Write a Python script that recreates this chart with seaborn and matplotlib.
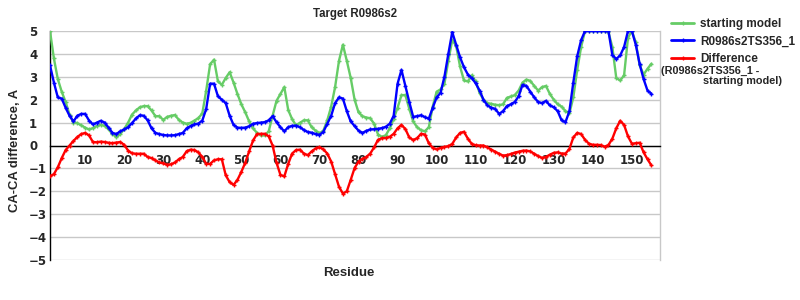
import numpy as np
import pandas as pd
import matplotlib
matplotlib.use("Agg")
import matplotlib.pyplot as plt
import seaborn as sns
from matplotlib.lines import Line2D

residues = list(range(1, 156))

starting_model = [
    5.0, 3.8, 2.9, 2.35, 1.9, 1.35, 1.0, 0.98, 0.88, 0.78,
    0.7, 0.76, 0.85, 0.9, 0.86, 0.7, 0.5, 0.36, 0.5, 0.72,
    1.0, 1.35, 1.53, 1.67, 1.72, 1.72, 1.53, 1.28, 1.28, 1.12,
    1.25, 1.3, 1.33, 1.12, 1.0, 0.95, 0.99, 1.09, 1.2, 1.4,
    2.4, 3.55, 3.75, 2.8, 2.65, 2.95, 3.2, 2.75, 2.25, 1.8,
    1.45, 1.05, 0.75, 0.55, 0.44, 0.44, 0.62, 1.3, 1.95, 2.25,
    2.55, 1.55, 1.15, 0.88, 0.99, 1.1, 1.1, 0.8, 0.65, 0.53,
    0.65, 1.1, 1.7, 2.55, 3.7, 4.4, 3.7, 2.95, 2.0, 1.45,
    1.28, 1.22, 1.19, 0.95, 0.48, 0.38, 0.45, 0.75, 1.16, 1.65,
    2.2, 2.2, 1.6, 1.05, 0.8, 0.67, 0.62, 0.8, 1.7, 2.35,
    2.45, 2.7, 3.7, 4.6, 4.35, 3.45, 2.84, 2.8, 3.06, 2.8,
    2.3, 2.0, 1.85, 1.82, 1.78, 1.76, 1.8, 2.08, 2.14, 2.2,
    2.4, 2.75, 2.88, 2.82, 2.6, 2.4, 2.55, 2.6, 2.25, 2.0,
    1.8, 1.7, 1.5, 1.4, 2.1, 3.3, 4.3, 5.0, 5.0, 5.0,
    5.0, 5.0, 5.0, 4.95, 4.3, 2.95, 2.84, 3.06, 4.7, 5.0,
    4.5, 3.5, 3.1, 3.35, 3.57,
]

model_ts356 = [
    3.5, 2.75, 2.1, 2.05, 1.65, 1.3, 1.05, 1.3, 1.38, 1.38,
    1.09, 0.92, 1.0, 1.08, 1.0, 0.78, 0.55, 0.5, 0.62, 0.7,
    0.8, 0.98, 1.18, 1.32, 1.3, 1.1, 0.75, 0.55, 0.5, 0.46,
    0.44, 0.44, 0.45, 0.5, 0.55, 0.75, 0.85, 0.92, 0.96, 1.09,
    1.6, 2.7, 2.7, 2.15, 2.0, 1.85, 1.3, 0.9, 0.78, 0.77,
    0.78, 0.84, 0.95, 0.98, 1.0, 1.02, 1.1, 1.28, 1.02, 0.8,
    0.62, 0.8, 0.86, 0.87, 0.8, 0.68, 0.59, 0.56, 0.5, 0.46,
    0.6, 0.95, 1.3, 1.85, 2.1, 2.05, 1.5, 1.05, 0.85, 0.65,
    0.55, 0.64, 0.7, 0.71, 0.73, 0.76, 0.82, 0.95, 1.3, 2.7,
    3.3, 2.6, 1.9, 1.25, 1.28, 1.32, 1.24, 1.17, 1.65, 2.1,
    2.3, 3.0, 4.0, 4.95, 4.4, 3.85, 3.42, 3.1, 2.94, 2.72,
    2.4, 2.0, 1.75, 1.65, 1.6, 1.38, 1.5, 1.72, 1.8, 1.9,
    2.15, 2.65, 2.6, 2.35, 2.1, 1.9, 1.85, 1.95, 1.75, 1.67,
    1.5, 1.1, 1.02, 1.5, 2.75, 3.9, 4.6, 5.0, 5.0, 5.0,
    5.0, 5.0, 5.0, 5.0, 3.95, 3.78, 3.93, 4.3, 5.0, 5.0,
    4.4, 3.55, 2.9, 2.4, 2.26,
]

difference = [
    -1.34, -1.25, -0.95, -0.55, -0.2, 0.0, 0.2, 0.37, 0.5, 0.55,
    0.44, 0.15, 0.14, 0.17, 0.15, 0.12, 0.1, 0.13, 0.15, 0.03,
    -0.22, -0.34, -0.36, -0.36, -0.36, -0.5, -0.55, -0.65, -0.74, -0.78,
    -0.84, -0.82, -0.74, -0.6, -0.5, -0.25, -0.18, -0.2, -0.3, -0.5,
    -0.8, -0.8, -0.65, -0.6, -0.6, -1.3, -1.6, -1.72, -1.5, -1.15,
    -0.75, -0.25, 0.22, 0.5, 0.51, 0.51, 0.4, 0.0, -0.75, -1.28,
    -1.35, -0.8, -0.35, -0.2, -0.18, -0.35, -0.42, -0.26, -0.13, -0.07,
    -0.17, -0.35, -0.7, -1.25, -1.8, -2.1, -2.0, -1.5, -0.98, -0.7,
    -0.58, -0.5, -0.35, -0.08, 0.25, 0.32, 0.33, 0.38, 0.51, 0.75,
    0.9, 0.72, 0.35, 0.24, 0.32, 0.51, 0.48, 0.1, -0.1, -0.17,
    -0.1, -0.06, -0.03, 0.07, 0.35, 0.55, 0.6, 0.3, 0.07, 0.01,
    0.0, 0.0, -0.08, -0.18, -0.27, -0.36, -0.44, -0.42, -0.37, -0.31,
    -0.27, -0.23, -0.22, -0.26, -0.36, -0.46, -0.54, -0.5, -0.4, -0.32,
    -0.3, -0.35, -0.35, -0.15, 0.35, 0.55, 0.5, 0.25, 0.08, 0.03,
    0.03, 0.02, -0.05, 0.02, 0.3, 0.75, 1.08, 0.9, 0.4, 0.08,
    0.1, 0.12, -0.3, -0.6, -0.87,
]

series_names = ["starting model", "R0986s2TS356_1", "Difference"]
colors = ["#66CC66", "#0000FF", "#FF0000"]
x_ticks = list(range(10, 151, 10))
y_ticks = list(range(-5, 6))

df = pd.DataFrame({
    "Residue": residues * 3,
    "value": starting_model + model_ts356 + difference,
    "series": sum([[n] * len(residues) for n in series_names], []),
})

sns.set_style("white")
plt.rcParams["font.family"] = ["DejaVu Sans"]

fig = plt.figure(figsize=(8, 3), dpi=100)
ax = fig.add_axes([0.0625, 0.1333, 0.7625, 0.7634])

for name, col in zip(series_names, colors):
    sub = df[df["series"] == name]
    sns.lineplot(data=sub, x="Residue", y="value", color=col, lw=1.7,
                 marker="+", markersize=3.5, markeredgewidth=1.0,
                 markeredgecolor=col, ax=ax, legend=False, zorder=3)

ax.set_xlim(1, 157.2)
ax.set_ylim(-5, 5)
ax.set_yticks(y_ticks)
ax.set_xticks(x_ticks)
ax.yaxis.grid(True, color="#C8C8C8", lw=1.0)
ax.xaxis.grid(False)
ax.set_axisbelow(True)

ax.spines["top"].set_visible(False)
ax.spines["right"].set_color("#C8C8C8")
ax.spines["right"].set_linewidth(1.0)
ax.spines["left"].set_color("black")
ax.spines["left"].set_linewidth(1.0)
ax.spines["bottom"].set_position(("data", 0))
ax.spines["bottom"].set_color("black")
ax.spines["bottom"].set_linewidth(1.0)

ax.tick_params(axis="x", direction="out", length=4, color="#B0B0B0",
               labelsize=8.5, pad=2)
ax.tick_params(axis="y", length=0, labelsize=8.5, pad=15)
for lab in ax.get_xticklabels() + ax.get_yticklabels():
    lab.set_fontweight("bold")
for lab in ax.get_yticklabels():
    lab.set_horizontalalignment("left")

ax.set_xlabel("Residue", fontsize=9.5, fontweight="bold",
              family="Liberation Sans")
ax.xaxis.set_label_coords(0.49, -0.03)
ax.set_ylabel("CA-CA difference, A", fontsize=9.4, fontweight="bold",
              family="Liberation Sans")
ax.yaxis.set_label_coords(-0.048, 0.48)
ax.set_title("Target R0986s2", fontsize=8.3, fontweight="bold",
             family="Liberation Sans", pad=10)

handles = [Line2D([0], [0], color=c, lw=2, marker="+", markersize=3.5)
           for c in colors]
leg = fig.legend(handles, series_names, loc="upper left",
                 bbox_to_anchor=(0.826, 0.975), frameon=False,
                 handlelength=1.9, handletextpad=0.5, labelspacing=0.45,
                 prop={"family": "Liberation Sans", "weight": "bold",
                       "size": 8.5})
fig.text(0.826, 0.762, "(R0986s2TS356_1 -", fontsize=7.8,
         fontweight="bold", family="Liberation Sans", va="center")
fig.text(0.879, 0.730, "starting model)", fontsize=7.8,
         fontweight="bold", family="Liberation Sans", va="center")

fig.savefig("out.png", dpi=100)
